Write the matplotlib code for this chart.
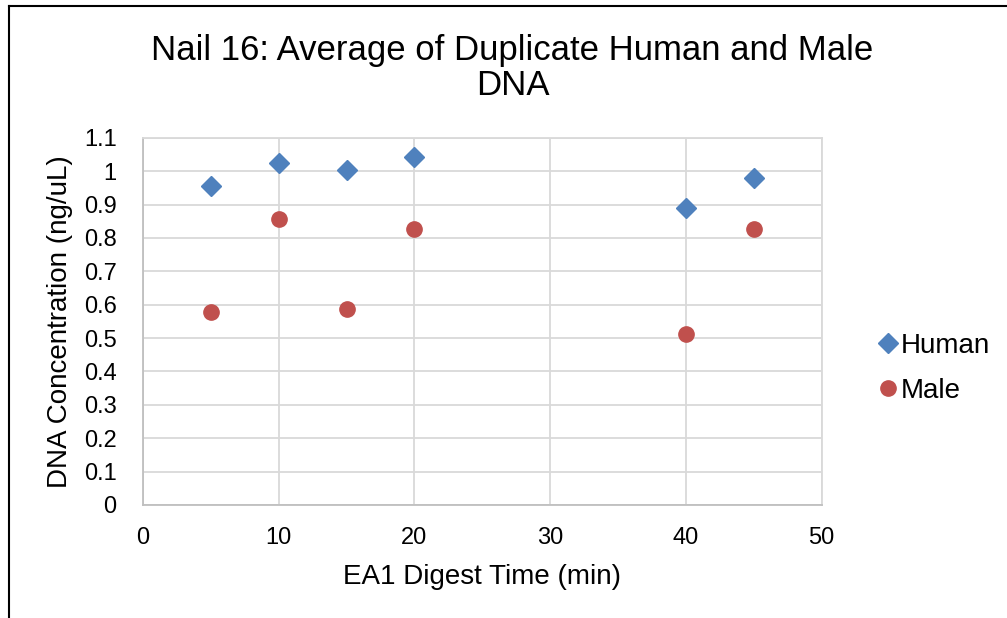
import matplotlib.pyplot as plt
from matplotlib.lines import Line2D

plt.rcParams["font.family"] = ["Liberation Sans", "DejaVu Sans"]

digest_time = [5, 10, 15, 20, 40, 45]
human_conc = [0.956, 1.025, 1.004, 1.043, 0.890, 0.980]
male_conc = [0.579, 0.857, 0.588, 0.827, 0.513, 0.827]

x_ticks = [0, 10, 20, 30, 40, 50]
y_ticks = [0, 0.1, 0.2, 0.3, 0.4, 0.5, 0.6, 0.7, 0.8, 0.9, 1, 1.1]
y_tick_labels = ["0", "0.1", "0.2", "0.3", "0.4", "0.5", "0.6", "0.7", "0.8", "0.9", "1", "1.1"]

BLUE = "#4F81BD"
RED = "#C0504D"
GRID = "#d9d9d9"

fig = plt.figure(figsize=(10.07, 6.18), dpi=100)
ax = fig.add_axes([0.142, 0.183, 0.674, 0.594])

ax.plot(digest_time, human_conc, linestyle="none", marker="D", markersize=10.5,
        color=BLUE, label="Human", zorder=3)
ax.plot(digest_time, male_conc, linestyle="none", marker="o", markersize=11,
        color=RED, label="Male", zorder=3)

ax.set_xlim(0, 50)
ax.set_ylim(0, 1.1)
ax.set_xticks(x_ticks)
ax.set_yticks(y_ticks)
ax.set_yticklabels(y_tick_labels)
ax.tick_params(length=0, labelsize=17, colors="black")
ax.tick_params(axis="x", pad=16)
ax.tick_params(axis="y", pad=19)
ax.grid(True, color=GRID, linewidth=1.3)
ax.set_axisbelow(True)
for side in ["top", "right"]:
    ax.spines[side].set_color(GRID)
    ax.spines[side].set_linewidth(1.3)
for side in ["left", "bottom"]:
    ax.spines[side].set_color("#bfbfbf")
    ax.spines[side].set_linewidth(1.3)

ax.set_xlabel("EA1 Digest Time (min)", fontsize=20, labelpad=11)
ax.set_ylabel("DNA Concentration (ng/uL)", fontsize=20, labelpad=8)

fig.text(0.509, 0.89, "Nail 16: Average of Duplicate Human and Male\nDNA",
         ha="center", va="center", fontsize=25, linespacing=1.1)

ax.legend(loc="center left", bbox_to_anchor=(1.052, 0.372), frameon=False,
          fontsize=20, handletextpad=-0.22, labelspacing=0.7, handlelength=1.4,
          borderaxespad=0.0)

# partial outer border (left and top edges)
fig.add_artist(Line2D([0.0085, 0.0085], [0, 0.99], color="black", linewidth=1.5,
                      transform=fig.transFigure))
fig.add_artist(Line2D([0.0085, 1.0], [0.99, 0.99], color="black", linewidth=1.5,
                      transform=fig.transFigure))

fig.savefig("out.png", dpi=100)
